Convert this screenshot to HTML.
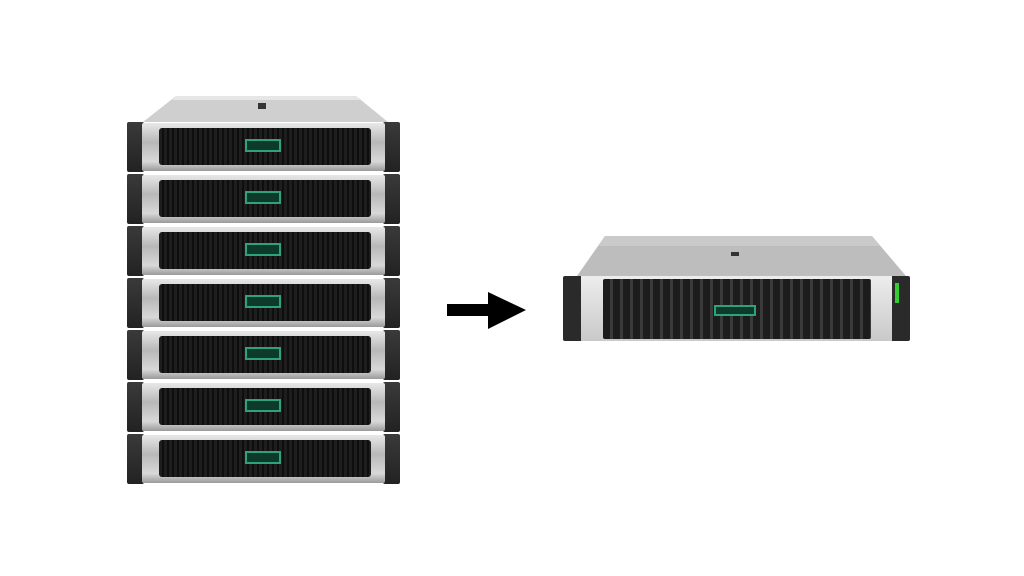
<!DOCTYPE html>
<html><head><style>
body{margin:0;width:1024px;height:576px;background:#fff;position:relative;overflow:hidden;font-family:"Liberation Sans",sans-serif}
.a{position:absolute}
.unit{position:absolute;left:127px;width:273px;height:50px}
.ear{position:absolute;top:0;width:17px;height:50px;background:linear-gradient(#3a3a3a,#222);border-radius:2px}
.ch{position:absolute;left:15px;width:243px;top:1px;height:48px;background:linear-gradient(#e8e8e8,#b8b8b8 40%,#d8d8d8 80%,#9a9a9a);border-radius:2px}
.bz{position:absolute;left:17px;width:212px;top:5px;height:37px;background:repeating-linear-gradient(90deg,#1e1e1e 0 3px,#0e0e0e 3px 5px);border-radius:3px}
.lg{position:absolute;left:86px;top:11px;width:36px;height:13px;border:2px solid #2fa27d;background:#0e3a2c;box-sizing:border-box}
</style></head><body>
<svg class="a" style="left:0;top:0" width="1024" height="576">
<polygon points="176,96 356,96 388,122 143,122" fill="#cfcfcf"/>
<polygon points="176,96 356,96 360,100 172,100" fill="#e6e6e6"/>
<rect x="258" y="103" width="8" height="6" fill="#333"/>
<polygon points="605,236 872,236 906,276 577,276" fill="#bdbdbd"/>
<polygon points="605,236 872,236 880,246 598,246" fill="#cacaca"/>
<rect x="731" y="252" width="8" height="4" fill="#333"/>
<rect x="447" y="304" width="44" height="12" fill="#000"/>
<polygon points="488,292 526,310 488,329" fill="#000"/>
</svg>
<div class="unit" style="top:122px"><div class="ear" style="left:0"></div><div class="ear" style="left:256px"></div><div class="ch"><div class="bz"><div class="lg"></div></div></div></div>
<div class="unit" style="top:174px"><div class="ear" style="left:0"></div><div class="ear" style="left:256px"></div><div class="ch"><div class="bz"><div class="lg"></div></div></div></div>
<div class="unit" style="top:226px"><div class="ear" style="left:0"></div><div class="ear" style="left:256px"></div><div class="ch"><div class="bz"><div class="lg"></div></div></div></div>
<div class="unit" style="top:278px"><div class="ear" style="left:0"></div><div class="ear" style="left:256px"></div><div class="ch"><div class="bz"><div class="lg"></div></div></div></div>
<div class="unit" style="top:330px"><div class="ear" style="left:0"></div><div class="ear" style="left:256px"></div><div class="ch"><div class="bz"><div class="lg"></div></div></div></div>
<div class="unit" style="top:382px"><div class="ear" style="left:0"></div><div class="ear" style="left:256px"></div><div class="ch"><div class="bz"><div class="lg"></div></div></div></div>
<div class="unit" style="top:434px"><div class="ear" style="left:0"></div><div class="ear" style="left:256px"></div><div class="ch"><div class="bz"><div class="lg"></div></div></div></div>

<div class="a" style="left:563px;top:276px;width:347px;height:65px;background:#2a2a2a;border-radius:2px"></div>
<div class="a" style="left:581px;top:276px;width:311px;height:65px;background:linear-gradient(#ededed,#c9c9c9)"></div>
<div class="a" style="left:603px;top:279px;width:268px;height:60px;background:repeating-linear-gradient(90deg,#1c1c1c 0 7px,#3a3a3a 7px 10px);border-radius:2px"></div>
<div class="a" style="left:714px;top:305px;width:42px;height:11px;border:2px solid #2fa27d;background:#0e3a2c;box-sizing:border-box"></div>
<div class="a" style="left:895px;top:283px;width:4px;height:20px;background:#3c3"></div>
</body></html>
